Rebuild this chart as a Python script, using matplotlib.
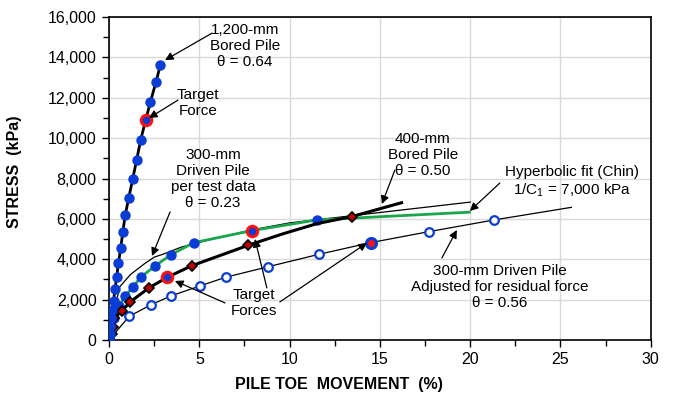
import matplotlib

matplotlib.use("Agg")
import matplotlib.pyplot as plt
from matplotlib.ticker import FuncFormatter, MultipleLocator

plt.rcParams["font.family"] = ["Liberation Sans", "DejaVu Sans"]
plt.rcParams["mathtext.fontset"] = "custom"
plt.rcParams["mathtext.rm"] = "Liberation Sans"

# ---- data (movement %, stress kPa) ----
bored1200_x = [0.0, 0.05, 0.08, 0.12, 0.18, 0.25, 0.33, 0.42, 0.52, 0.65, 0.76,
               0.90, 1.09, 1.31, 1.53, 1.75, 2.03, 2.29, 2.60, 2.84]
bored1200_y = [0, 300, 700, 1100, 1500, 1950, 2500, 3100, 3800, 4570, 5330,
               6200, 7030, 7970, 8920, 9900, 10900, 11790, 12780, 13620]
bored1200_target = (2.03, 10900)

bored400_x = [0.0, 0.15, 0.24, 0.29, 0.74, 1.15, 2.23, 3.23, 4.59, 7.71, 13.43]
bored400_y = [30, 300, 660, 1100, 1450, 1870, 2590, 3105, 3680, 4690, 6110]
bored400_line_x = [0.0, 0.15, 0.24, 0.29, 0.74, 1.15, 2.23, 3.23, 4.59, 6.2,
                   7.71, 9.6, 11.5, 13.43, 16.2]
bored400_line_y = [30, 300, 660, 1100, 1450, 1870, 2590, 3105, 3680, 4200,
                   4690, 5250, 5760, 6110, 6800]
bored400_target = (3.23, 3105)

driven_x = [0.0, 0.30, 0.57, 0.89, 1.35, 1.75, 2.55, 3.43, 4.70, 7.90, 11.5]
driven_y = [0, 1100, 1685, 2180, 2640, 3105, 3665, 4225, 4820, 5415, 5945]
driven_line_end = (19.95, 6330)
driven_target = (7.90, 5415)

resid_x = [0.0, 1.12, 2.31, 3.43, 5.04, 6.46, 8.82, 11.64, 14.48, 17.71, 21.32]
resid_y = [0, 1170, 1735, 2180, 2675, 3105, 3630, 4245, 4820, 5365, 5945]
resid_line_end = (25.6, 6570)
resid_target = (14.48, 4820)

chin_x = [0.0, 0.15, 0.35, 0.60, 1.2, 2.0, 2.5, 3.0, 4.0, 5.5, 7.9, 10.0, 13.4, 20.0]
chin_y = [0, 700, 1700, 2640, 3250, 3800, 4100, 4250, 4600, 4950, 5450, 5800, 6150, 6830]

BLUE = "#0a3cd6"
RED = "#ff1010"
GREEN = "#1aa64a"


def main() -> None:
    fig = plt.figure(figsize=(6.73, 3.98), dpi=100)
    ax = fig.add_axes([0.162, 0.146, 0.805, 0.811])

    # thin lines first
    ax.plot(resid_x + [resid_line_end[0]], resid_y + [resid_line_end[1]],
            color="black", lw=0.9, zorder=3)
    ax.plot(resid_x, resid_y, ls="none", marker="o", ms=6.2, mfc="white",
            mec=BLUE, mew=1.6, zorder=4)
    ax.plot(*resid_target, marker="o", ms=7.2, mfc=RED, mec=BLUE, mew=2.2, zorder=5)

    ax.plot(chin_x, chin_y, color="black", lw=0.9, zorder=3)

    ax.plot(driven_x + [driven_line_end[0]], driven_y + [driven_line_end[1]],
            color=GREEN, lw=2.0, zorder=4)
    ax.plot(driven_x, driven_y, ls="none", marker="o", ms=6.5, mfc=BLUE,
            mec=BLUE, zorder=5)
    ax.plot(*driven_target, marker="o", ms=7.5, mfc=BLUE, mec=RED, mew=2.2, zorder=6)

    ax.plot(bored400_line_x, bored400_line_y, color="black", lw=2.2, zorder=6)
    ax.plot(bored400_x, bored400_y, ls="none", marker="D", ms=5.5, mfc="#c00000",
            mec="black", mew=1.2, zorder=7)
    ax.plot(*bored400_target, marker="o", ms=7.5, mfc=BLUE, mec=RED, mew=2.2, zorder=8)

    ax.plot(bored1200_x, bored1200_y, color="black", lw=2.0, zorder=6)
    ax.plot(bored1200_x, bored1200_y, ls="none", marker="o", ms=6.5, mfc=BLUE,
            mec=BLUE, zorder=7)
    ax.plot(*bored1200_target, marker="o", ms=7.5, mfc=BLUE, mec=RED, mew=2.2, zorder=8)

    # axes
    ax.set_xlim(0, 30)
    ax.set_ylim(0, 16000)
    ax.xaxis.set_major_locator(MultipleLocator(5))
    ax.xaxis.set_minor_locator(MultipleLocator(2.5))
    ax.yaxis.set_major_locator(MultipleLocator(2000))
    ax.yaxis.set_minor_locator(MultipleLocator(1000))
    ax.yaxis.set_major_formatter(FuncFormatter(lambda v, p: f"{int(v):,}"))
    ax.grid(True, which="major", color="#d9d9d9", lw=1.0, zorder=0)
    ax.set_axisbelow(True)
    ax.tick_params(which="both", direction="out", labelsize=11.5, width=1.0)
    ax.tick_params(which="major", length=5, pad=4)
    ax.tick_params(which="minor", length=4)
    for s in ax.spines.values():
        s.set_linewidth(1.2)

    ax.set_xlabel("PILE TOE  MOVEMENT  (%)", fontsize=11.5, fontweight="bold")
    ax.set_ylabel("STRESS  (kPa)", fontsize=11.5, fontweight="bold")
    ax.xaxis.set_label_coords(0.425, -0.115)
    ax.yaxis.set_label_coords(-0.16, 0.52)

    # annotations
    fs = 11
    arrow = dict(arrowstyle="-|>", color="black", lw=0.9, mutation_scale=12,
                 shrinkA=0, shrinkB=0)
    notes = [
        ("1,200-mm\nBored Pile\nθ = 0.64", (7.53, 14565)),
        ("Target\nForce", (4.93, 11738)),
        ("300-mm\nDriven Pile\nper test data\nθ = 0.23", (5.76, 7974)),
        ("400-mm\nBored Pile\nθ = 0.50", (17.38, 9163)),
        ("Hyperbolic fit (Chin)\n1/C$_1$ = 7,000 kPa", (25.62, 7826)),
        ("300-mm Driven Pile\nAdjusted for residual force\nθ = 0.56", (21.64, 2625)),
        ("Target\nForces", (8.02, 1833)),
    ]
    for txt, (tx, ty) in notes:
        ax.text(tx, ty, txt, ha="center", va="center", fontsize=fs,
                linespacing=1.2, zorder=10)

    arrows = [
        ((5.70, 15205), (3.10, 13868)),
        ((3.82, 11887), (2.21, 10996)),
        ((3.38, 6340), (2.38, 4160)),
        ((15.83, 8420), (15.11, 6736)),
        ((21.64, 7776), (19.98, 6389)),
        ((18.43, 4061), (19.26, 5448)),
        ((6.42, 1833), (3.65, 2922)),
        ((8.74, 2576), (8.08, 5003)),
        ((9.46, 1882), (14.28, 4804)),
    ]
    for tail, head in arrows:
        ax.annotate("", xy=head, xytext=tail, arrowprops=arrow, zorder=9)

    fig.savefig("out.png", dpi=100)


if __name__ == "__main__":
    main()
